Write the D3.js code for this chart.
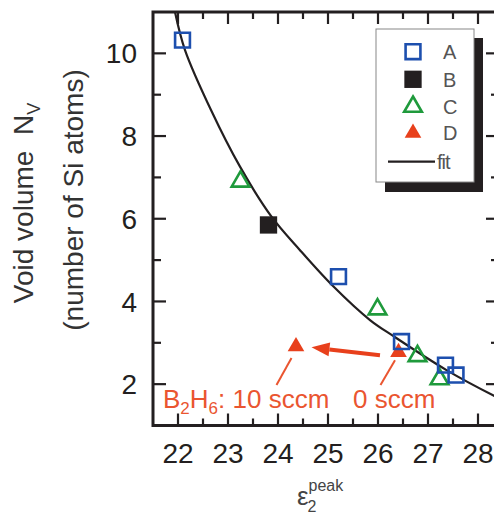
<!DOCTYPE html>
<html><head><meta charset="utf-8">
<script src="https://cdn.jsdelivr.net/npm/d3@7"></script>
<style>
html,body{margin:0;padding:0;background:#fff;}
svg{display:block;font-family:"Liberation Sans",Arial,sans-serif;}
</style></head>
<body><svg id="c" width="494" height="516"></svg>
<script>
// ---- data ----
const seriesNames = ["A","B","C","D"];
const aX = [22.09, 25.21, 26.47, 27.35, 27.56];
const aY = [10.32, 4.60, 3.03, 2.46, 2.22];
const bX = [23.81];
const bY = [5.85];
const cX = [23.25, 25.99, 26.79, 27.23];
const cY = [6.90, 3.81, 2.68, 2.12];
const dX = [24.36, 26.41];
const dY = [2.91, 2.77];
const fitX = [21.94, 22.14, 22.66, 23.24, 23.87, 24.44, 25.11, 25.84, 26.31, 27.37, 28.32, 28.6];
const fitY = [11.0, 10.08, 8.63, 7.26, 6.05, 5.24, 4.36, 3.55, 3.16, 2.34, 1.72, 1.56];
const xTicks = [22, 23, 24, 25, 26, 27, 28];
const yTicks = [2, 4, 6, 8, 10];
const arrowFrom = [26.04, 2.70];
const arrowTo = [24.67, 2.89];

const colors = {A:"#1d4fae", B:"#231f20", C:"#1f9a3c", D:"#e8401c"};
const annColor = "#ea5530";

const svg = d3.select("#c");
const L = 153, R = 499, T = 12, B = 425.5;
const x = d3.scaleLinear().domain([21.5, 28.42]).range([L, R]);
const y = d3.scaleLinear().domain([1, 11]).range([B, T]);

// clip
svg.append("defs").append("clipPath").attr("id","clip")
  .append("rect").attr("x",L).attr("y",T).attr("width",R-L).attr("height",B-T);

// ticks (inward)
const xMinor = d3.range(21.5, 28.5, 0.5).filter(v => v > 21.6);
const yMinor = d3.range(1, 11.01, 1);
const tickG = svg.append("g").attr("stroke","#231f20");
xMinor.forEach(v => {
  const major = Math.abs(v - Math.round(v)) < 1e-6;
  const len = major ? 12 : 7;
  tickG.append("line").attr("x1",x(v)).attr("x2",x(v)).attr("y1",B).attr("y2",B-len).attr("stroke-width",2.2);
  tickG.append("line").attr("x1",x(v)).attr("x2",x(v)).attr("y1",T).attr("y2",T+len).attr("stroke-width",2.2);
});
yMinor.forEach(v => {
  if (v <= 1 || v >= 11) return;
  const major = v % 2 === 0;
  const len = major ? 13 : 8;
  tickG.append("line").attr("y1",y(v)).attr("y2",y(v)).attr("x1",L).attr("x2",L+len).attr("stroke-width",2.2);
  tickG.append("line").attr("y1",y(v)).attr("y2",y(v)).attr("x1",R).attr("x2",R-len).attr("stroke-width",2.2);
});

// frame
svg.append("rect").attr("x",L).attr("y",T).attr("width",R-L).attr("height",B-T)
  .attr("fill","none").attr("stroke","#231f20").attr("stroke-width",3);

// tick labels
svg.append("g").selectAll("text").data(xTicks).join("text")
  .attr("x", d => x(d)).attr("y", 463).attr("text-anchor","middle")
  .attr("font-size",28).attr("fill","#231f20").text(d => d);
svg.append("g").selectAll("text").data(yTicks).join("text")
  .attr("x", 137).attr("y", d => y(d)).attr("dy","0.36em").attr("text-anchor","end")
  .attr("font-size",28).attr("fill","#231f20").text(d => d);

// axis titles
const yt1 = svg.append("text").attr("transform","translate(33,203) rotate(-90)")
  .attr("text-anchor","middle").attr("font-size",28).attr("fill","#333");
yt1.append("tspan").text("Void volume\u00A0\u00A0N");
yt1.append("tspan").attr("font-size",18).attr("dy",7).text("V");
svg.append("text").attr("transform","translate(83,200) rotate(-90)")
  .attr("text-anchor","middle").attr("font-size",28).attr("fill","#333")
  .text("(number of Si atoms)");

const xt = svg.append("text").attr("x",297).attr("y",505).attr("font-size",26).attr("fill","#444");
xt.append("tspan").text("\u03B5");
xt.append("tspan").attr("font-size",16).attr("dy",7).attr("dx",-1).text("2");
xt.append("tspan").attr("font-size",16).attr("dy",-21).attr("dx",-8).text("peak");

// fit curve
const fitData = fitX.map((v,i) => [v, fitY[i]]);
svg.append("path").attr("clip-path","url(#clip)")
  .attr("d", d3.line().x(d => x(d[0])).y(d => y(d[1])).curve(d3.curveCatmullRom)(fitData))
  .attr("fill","none").attr("stroke","#231f20").attr("stroke-width",2.2);

// markers
const sq = d3.symbol().type(d3.symbolSquare).size(220);
const sqF = d3.symbol().type(d3.symbolSquare).size(300);
const tri = d3.symbol().type(d3.symbolTriangle).size(135);
const triF = d3.symbol().type(d3.symbolTriangle).size(120);
function drawPts(xs, ys, gen, fill, stroke) {
  svg.append("g").selectAll("path").data(xs.map((v,i)=>[v,ys[i]])).join("path")
    .attr("transform", d => `translate(${x(d[0])},${y(d[1])})`)
    .attr("d", gen())
    .attr("fill", fill).attr("stroke", stroke).attr("stroke-width", stroke==="none"?0:2.6);
}
drawPts(bX, bY, sqF, colors.B, "none");
drawPts(cX, cY, tri, "none", colors.C);
drawPts(dX, dY, triF, colors.D, "none");
drawPts(aX, aY, sq, "none", colors.A);

// arrow
const ax0 = x(arrowFrom[0]), ay0 = y(arrowFrom[1]), ax1 = x(arrowTo[0]), ay1 = y(arrowTo[1]);
const ang = Math.atan2(ay1-ay0, ax1-ax0);
const headL = 18, headW = 7;
const bx = ax1 - headL*Math.cos(ang), by = ay1 - headL*Math.sin(ang);
svg.append("line").attr("x1",ax0).attr("y1",ay0).attr("x2",bx).attr("y2",by)
  .attr("stroke",colors.D).attr("stroke-width",4);
svg.append("path").attr("fill",colors.D).attr("d",
  `M${ax1},${ay1}L${bx - headW*Math.sin(ang)},${by + headW*Math.cos(ang)}L${bx + headW*Math.sin(ang)},${by - headW*Math.cos(ang)}Z`);

// leader lines
svg.append("line").attr("x1",x(24.27)).attr("y1",y(2.63)).attr("x2",x(23.97)).attr("y2",y(1.98))
  .attr("stroke",annColor).attr("stroke-width",2);
svg.append("line").attr("x1",x(26.34)).attr("y1",y(2.58)).attr("x2",x(26.05)).attr("y2",y(1.98))
  .attr("stroke",annColor).attr("stroke-width",2);

// annotation text
const at = svg.append("text").attr("x",163).attr("y",408).attr("font-size",26).attr("fill",annColor);
at.append("tspan").text("B");
at.append("tspan").attr("font-size",17).attr("dy",6).text("2");
at.append("tspan").attr("dy",-6).text("H");
at.append("tspan").attr("font-size",17).attr("dy",6).text("6");
at.append("tspan").attr("dy",-6).text(": 10 sccm");
svg.append("text").attr("x",353).attr("y",408).attr("font-size",26).attr("fill",annColor).text("0 sccm");

// legend
const lg = svg.append("g");
lg.append("rect").attr("x",385).attr("y",38).attr("width",98).attr("height",154).attr("fill","#231f20");
lg.append("rect").attr("x",376).attr("y",29).attr("width",98).attr("height",153)
  .attr("fill","#fff").attr("stroke","#888").attr("stroke-width",1);
const rows = [51.7, 79.3, 106.7, 133, 161.7];
const legendGens = [sq, sqF, tri, triF];
const legendFill = ["none", colors.B, "none", colors.D];
const legendStroke = [colors.A, "none", colors.C, "none"];
seriesNames.forEach((n,i) => {
  lg.append("path").attr("transform",`translate(413,${rows[i]})`).attr("d",legendGens[i]())
    .attr("fill",legendFill[i]).attr("stroke",legendStroke[i]).attr("stroke-width",legendStroke[i]==="none"?0:2.6);
  lg.append("text").attr("x",443).attr("y",rows[i]).attr("dy","0.36em").attr("font-size",20)
    .attr("fill","#555").text(n);
});
lg.append("line").attr("x1",388).attr("x2",435).attr("y1",rows[4]).attr("y2",rows[4])
  .attr("stroke","#231f20").attr("stroke-width",2.2);
lg.append("text").attr("x",437).attr("y",rows[4]).attr("dy","0.36em").attr("font-size",20)
  .attr("fill","#555").attr("letter-spacing",-1).text("fit");
</script></body></html>
